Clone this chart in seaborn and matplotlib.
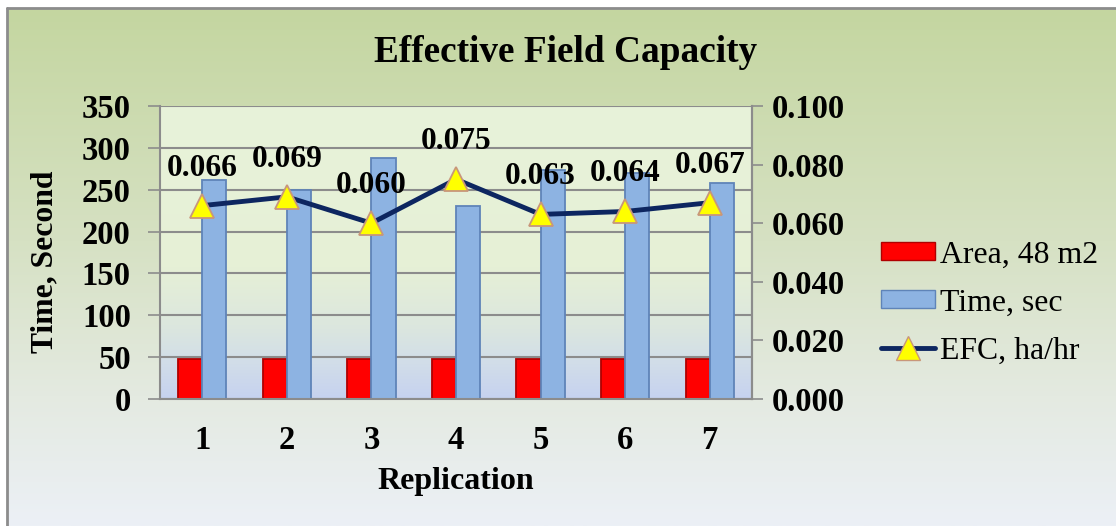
import numpy as np
import pandas as pd
import matplotlib
matplotlib.use("Agg")
import matplotlib.pyplot as plt
import seaborn as sns
from matplotlib.lines import Line2D
from matplotlib.patches import Patch
from matplotlib.colors import LinearSegmentedColormap

# ---------------- data ----------------
replications = ["1", "2", "3", "4", "5", "6", "7"]
area_m2 = [48, 48, 48, 48, 48, 48, 48]
time_sec = [262, 250, 288, 230, 274, 270, 258]
efc_ha_hr = [0.066, 0.069, 0.060, 0.075, 0.063, 0.064, 0.067]
series_names = ["Area, 48 m2", "Time, sec", "EFC, ha/hr"]
left_ticks = [0, 50, 100, 150, 200, 250, 300, 350]
right_ticks = [0.0, 0.02, 0.04, 0.06, 0.08, 0.10]
title = "Effective Field Capacity"
xlabel = "Replication"
ylabel = "Time, Second"

df = pd.DataFrame({
    "Replication": replications * 2,
    "series": [series_names[0]] * 7 + [series_names[1]] * 7,
    "value": area_m2 + time_sec,
})

sns.set_style("white")
plt.rcParams['font.family'] = ['Liberation Serif', 'DejaVu Serif']
plt.rcParams['text.color'] = 'black'
plt.rcParams['axes.labelcolor'] = 'black'
plt.rcParams['xtick.color'] = 'black'
plt.rcParams['ytick.color'] = 'black'

W, H = 1116, 526
fig = plt.figure(figsize=(W / 100, H / 100), dpi=100)

# ---------- figure background ----------
bg = fig.add_axes([0, 0, 1, 1], zorder=-10)
bg.set_xlim(0, W)
bg.set_ylim(H, 0)
bg.axis('off')
bg_cmap = LinearSegmentedColormap.from_list(
    "bg", [(0.0, (196/255, 214/255, 160/255)),
           (0.45, (214/255, 225/255, 195/255)),
           (0.75, (228/255, 234/255, 225/255)),
           (1.0, (236/255, 240/255, 246/255))])
bg.imshow(np.linspace(0, 1, 256).reshape(-1, 1), cmap=bg_cmap,
          extent=[7, W, H, 8], aspect='auto')
bg.plot([7, 7], [H, 8], color="#8c8c8c", lw=2)
bg.plot([7, W], [8, 8], color="#8c8c8c", lw=2)

# ---------- main axes ----------
L, R, T, B = 160, 752, 106, 399
ax = fig.add_axes([L / W, 1 - B / H, (R - L) / W, (B - T) / H])
sns.barplot(data=df, x="Replication", y="value", hue="series",
            palette=["#ff0000", "#8db3e2"], saturation=1, width=0.57, gap=0,
            edgecolor=None, linewidth=0, ax=ax)
for bar in ax.patches:
    fc = bar.get_facecolor()
    if fc[0] > 0.9 and fc[1] < 0.2:
        bar.set_edgecolor("#b00000")
    else:
        bar.set_edgecolor("#5f84b8")
    bar.set_linewidth(1.3)
    bar.set_zorder(2)
if ax.get_legend() is not None:
    ax.get_legend().remove()

pa_cmap = LinearSegmentedColormap.from_list(
    "pa", [(0.0, (232/255, 243/255, 218/255)),
           (0.55, (230/255, 240/255, 214/255)),
           (0.75, (220/255, 231/255, 222/255)),
           (0.87, (210/255, 222/255, 232/255)),
           (1.0, (198/255, 210/255, 240/255))])
ax.imshow(np.linspace(0, 1, 256).reshape(-1, 1), cmap=pa_cmap,
          extent=[-0.5, 6.5, 0, 350], aspect='auto', zorder=0)
ax.set_xlim(-0.5, 6.5)
ax.set_ylim(0, 350)
ax.set_yticks(left_ticks)
ax.set_yticklabels([str(t) for t in left_ticks], fontsize=23.5, fontweight='bold')
ax.set_xticks(range(7))
ax.set_xticklabels(replications, fontsize=23.5, fontweight='bold')
ax.set_xticks(np.arange(-0.5, 7.0, 1.0), minor=True)
ax.tick_params(axis='x', which='major', length=0, pad=19, labelcolor='black')
ax.tick_params(axis='x', which='minor', length=8, width=1.2, color="#8c8c8c", direction='out')
ax.tick_params(axis='y', which='major', length=9, width=1.2, color="#8c8c8c",
               direction='out', pad=12, left=True, labelcolor='black')
ax.grid(axis='y', color="#8c8c8c", lw=1.5, zorder=1)
ax.set_axisbelow(True)
for sp in ["left", "bottom", "right"]:
    ax.spines[sp].set_color("#8c8c8c")
    ax.spines[sp].set_linewidth(1.5)
ax.spines["top"].set_visible(False)
ax.set_xlabel("")
ax.set_ylabel("")

# ---------- secondary axis (EFC line) ----------
ax2 = ax.twinx()
ax2.patch.set_visible(False)
line_color = "#0d2660"
sns.lineplot(x=np.arange(7), y=efc_ha_hr, ax=ax2, color=line_color, lw=3.5,
             marker='^', markersize=17, markerfacecolor="#ffff00",
             markeredgecolor="#c8967a", markeredgewidth=1.3, legend=False)
ax2.set_ylim(0, 0.1)
ax2.set_yticks(right_ticks)
ax2.set_yticklabels([f"{t:.3f}" for t in right_ticks], fontsize=23.5, fontweight='bold')
ax2.tick_params(axis='y', length=8, width=1.2, color="#8c8c8c", direction='out',
                pad=6, labelcolor='black')
for sp in ax2.spines.values():
    sp.set_visible(False)
ax2.spines["right"].set_visible(True)
ax2.spines["right"].set_color("#8c8c8c")
ax2.spines["right"].set_linewidth(1.5)
ax2.set_ylabel("")
for i, v in enumerate(efc_ha_hr):
    ax2.annotate(f"{v:.3f}", (i, v), xytext=(0, 27), textcoords='offset points',
                 ha='center', va='center', fontsize=22.6, fontweight='bold',
                 color='black', zorder=5)

# ---------- texts ----------
fig.text(566 / W, 1 - 52 / H, title, ha='center', va='center',
         fontsize=26.8, fontweight='bold', color='black')
fig.text(45 / W, 1 - 262 / H, ylabel, ha='center', va='center', rotation=90,
         fontsize=22.8, fontweight='bold', color='black')
fig.text(456 / W, 1 - 481 / H, xlabel, ha='center', va='center',
         fontsize=23, fontweight='bold', color='black')

# ---------- legend ----------
handles = [Patch(facecolor="#ff0000", edgecolor="#b00000"),
           Patch(facecolor="#8db3e2", edgecolor="#5f84b8"),
           Line2D([0], [0], color=line_color, lw=3.5, marker='^', markersize=17,
                  markerfacecolor="#ffff00", markeredgecolor="#c8967a")]
leg = fig.legend(handles, series_names, loc='center left',
                 bbox_to_anchor=(868 / W, 1 - 303 / H), frameon=False,
                 prop={'size': 22.9, 'family': 'Liberation Serif'},
                 handlelength=1.7, handleheight=0.5, handletextpad=0.15,
                 labelspacing=0.6, borderaxespad=0)
for t in leg.get_texts():
    t.set_color('black')

fig.savefig("out.png", dpi=100)
